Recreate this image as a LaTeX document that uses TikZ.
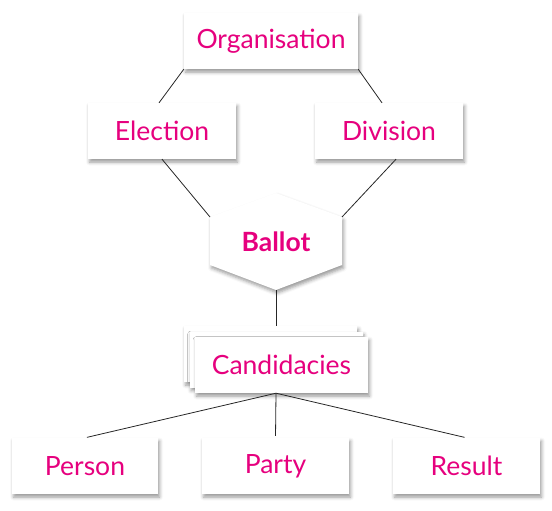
\documentclass[tikz,border=0pt]{standalone}
\usepackage{fontspec}
\setmainfont{Lato}
\usetikzlibrary{shadows.blur}
\definecolor{mpink}{RGB}{230,0,126}
\newcommand{\mlabel}{\fontsize{26.5}{31}\selectfont}

\begin{document}
\begin{tikzpicture}[x=1pt,y=-1pt]
                        \tikzstyle{box}=[fill=white, text=mpink, font=\mlabel, inner sep=0pt, minimum height=56pt,
                            blur shadow={shadow xshift=1.5pt, shadow yshift=-3pt, shadow blur radius=3.5pt, shadow opacity=40}]
                        \tikzstyle{hexbox}=[fill=white,
                            blur shadow={shadow xshift=1.5pt, shadow yshift=-3pt, shadow blur radius=3.5pt, shadow opacity=40}]
                        \tikzstyle{link}=[line width=0.8pt, black!85]
                        \useasboundingbox (0,0) rectangle (552,511);
                        \node[box, minimum width=174pt] (org) at (271,41) {Organisation};
                        \node[box, minimum width=148pt] (elec) at (162,131) {Election};
                        \node[box, minimum width=148pt] (div) at (389,131) {Division};
                        \coordinate (ballot) at (276,242);
                        \coordinate (hextop) at (276,193);
                        \coordinate (hexul) at (210,217);
                        \coordinate (hexll) at (210,265);
                        \coordinate (hexbot) at (276,290);
                        \coordinate (hexlr) at (342,265);
                        \coordinate (hexur) at (342,217);
                        \path[hexbox] (hextop) -- (hexul) -- (hexll) -- (hexbot) -- (hexlr) -- (hexur) -- cycle;
                        \node[text=mpink, font=\mlabel\bfseries] (ballottext) at (ballot) {Ballot};
                        \node[box, minimum width=173pt] (cand3) at (270.5,354) {};
                        \node[box, minimum width=173pt] (cand2) at (276,359.5) {};
                        \node[box, minimum width=173pt] (cand) at (281.5,365) {Candidacies};
                        \node[box, minimum width=146pt] (person) at (85,466) {Person};
                        \node[box, minimum width=147pt] (party) at (275.5,466) {Party};
                        \node[box, minimum width=147pt] (result) at (466.5,466) {Result};
                        \coordinate (candbot) at (hexbot |- cand.south);
                        \draw[link] (org.south west) -- (elec.96);
                        \draw[link] (org.south east) -- (div.104);
                        \draw[link] (elec.south) -- (hexul);
                        \draw[link] (div.284) -- (hexur);
                        \draw[link] (hexbot) -- (hexbot |- cand3.north);
                        \draw[link, shorten >=2pt] (candbot) -- (person.north);
                        \draw[link, shorten >=2pt] (candbot) -- (party.north);
                        \draw[link, shorten >=2pt] (candbot) -- (result.north);
                    \end{tikzpicture}
\end{document}
